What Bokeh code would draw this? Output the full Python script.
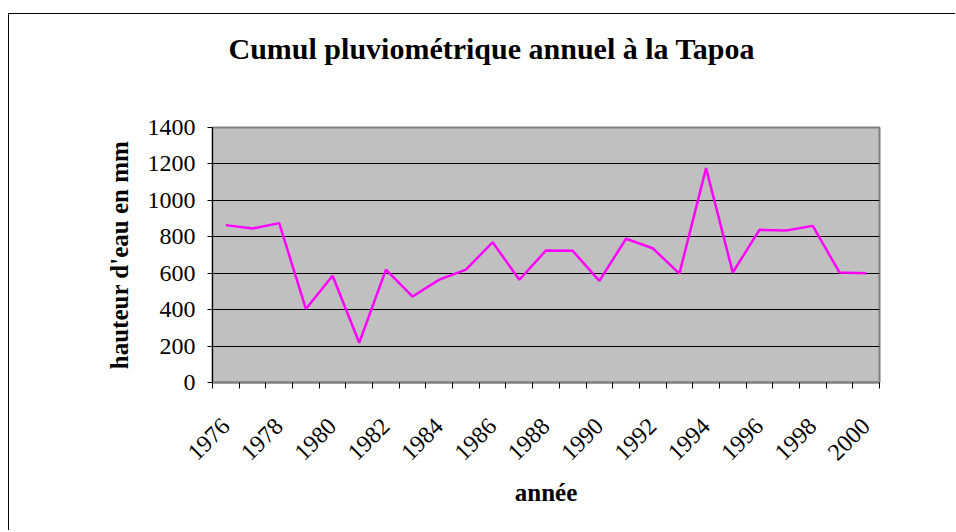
import math
from bokeh.plotting import figure
from bokeh.models import FixedTicker, Range1d, Title
from bokeh.embed import file_html
from bokeh.resources import INLINE

# Data
annees = list(range(1976, 2001))
cumul_mm = [864, 845, 875, 404, 586, 218, 620, 472, 565, 620, 770, 564, 725,
            723, 558, 789, 737, 598, 1177, 604, 838, 834, 860, 604, 600]
annees_etiquettes = list(range(1976, 2001, 2))
y_ticks = [0, 200, 400, 600, 800, 1000, 1200, 1400]

titre = "Cumul pluviométrique annuel à la Tapoa"
titre_x = "année"
titre_y = "hauteur d'eau en mm"

SERIF = "Liberation Serif"

p = figure(width=947, height=517, output_backend="svg", toolbar_location=None,
           x_range=Range1d(1975.5, 2000.5), y_range=Range1d(0, 1400),
           min_border_left=203, min_border_right=77, min_border_top=113,
           min_border_bottom=149, title_location=None)
p.styles = {"box-shadow": "-1px -1px 0 0 black",
            "margin-top": "14px", "margin-left": "9px"}

p.background_fill_color = "#C0C0C0"
p.border_fill_color = "white"
p.outline_line_color = "#808080"
p.outline_line_width = 2

# spacer panel between frame and title, then the title itself
p.add_layout(Title(text=" ", text_font=SERIF, text_font_size="30px",
                   standoff=28), "above")
p.add_layout(Title(text=titre, text_font=SERIF, text_font_size="30px",
                   text_font_style="bold", text_color="black", align="left",
                   offset=16, standoff=0), "above")

p.line(annees, cumul_mm, line_color="#FF00FF", line_width=2.5)

# grid
p.xgrid.grid_line_color = None
p.ygrid.grid_line_color = "black"
p.ygrid.grid_line_width = 1
p.ygrid.ticker = FixedTicker(ticks=y_ticks[1:-1])

# y axis
yax = p.yaxis[0]
yax.ticker = FixedTicker(ticks=y_ticks)
yax.axis_label = titre_y
yax.axis_label_text_font = SERIF
yax.axis_label_text_font_size = "25px"
yax.axis_label_text_font_style = "bold"
yax.axis_label_text_color = "black"
yax.axis_label_standoff = 12
yax.major_label_text_font = SERIF
yax.major_label_text_font_size = "24px"
yax.major_label_text_color = "black"
yax.major_tick_out = 5
yax.major_tick_in = 0
yax.minor_tick_line_color = None
yax.axis_line_color = "black"
yax.major_label_standoff = 12

# x axis
xax = p.xaxis[0]
bornes = [a - 0.5 for a in annees] + [annees[-1] + 0.5]
xax.ticker = FixedTicker(ticks=annees_etiquettes, minor_ticks=bornes)
xax.major_label_overrides = {a: str(a) for a in annees_etiquettes}
xax.major_label_orientation = math.pi / 4
xax.major_label_text_font = SERIF
xax.major_label_text_font_size = "24px"
xax.major_label_text_color = "black"
xax.major_tick_in = 0
xax.major_tick_out = 0
xax.minor_tick_in = 0
xax.minor_tick_out = 6
xax.minor_tick_line_color = "black"
xax.axis_line_color = "#808080"
xax.axis_line_width = 2
xax.major_label_standoff = 34
xax.axis_label = titre_x
xax.axis_label_text_font = SERIF
xax.axis_label_text_font_size = "25px"
xax.axis_label_text_font_style = "bold"
xax.axis_label_text_color = "black"
xax.axis_label_standoff = 9

open("out.html", "w").write(file_html(p, INLINE))
